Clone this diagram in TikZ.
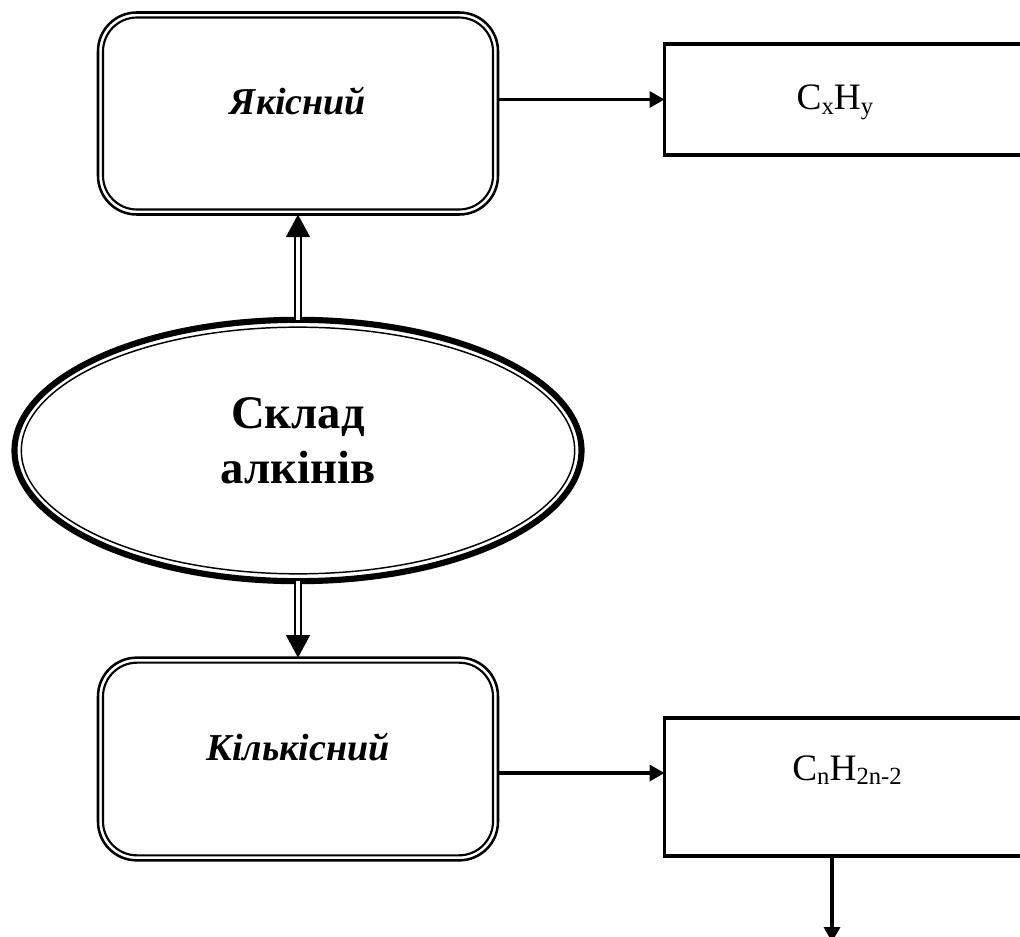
\documentclass[tikz,border=0pt]{standalone}
\usepackage{fontspec}
\setmainfont{Liberation Serif}
\usetikzlibrary{arrows.meta,shapes.geometric,calc}
% lowered, smaller index for chemical formulas
\newcommand\lowidx[1]{\raisebox{-3.7pt}{\fontsize{18.5pt}{20pt}\selectfont #1}}

\begin{document}
\begin{tikzpicture}[x=0.75pt,y=-0.75pt,
  rbox/.style={draw, line width=1.9pt, rounded corners=29pt, minimum width=300pt,
               inner sep=0pt, outer sep=0pt},
  rinner/.style={line width=1.6pt, rounded corners=25.5pt},
  fbox/.style={draw, line width=2.8pt, minimum width=296.6pt, inner sep=0pt, outer sep=0pt},
  ellbox/.style={ellipse, draw, line width=4.6pt, minimum width=425.25pt,
                 minimum height=196pt, inner sep=0pt, outer sep=0pt},
  lab/.style={anchor=base, font=\fontsize{28.5pt}{32pt}\selectfont\bfseries\itshape},
  frm/.style={anchor=base, font=\fontsize{28pt}{32pt}\selectfont},
  big/.style={anchor=base, font=\fontsize{35pt}{40pt}\selectfont\bfseries},
  arr/.style={line width=2.5pt, -{Triangle[length=11.25pt,width=12pt]}},
  dshaft/.style={double, line width=1.6pt, double distance=2.8pt, shorten >=15pt},
  dhead/.style={white, line width=1pt,
                -{Triangle[length=17pt,width=18pt,color=black,fill=black]}},
]
\useasboundingbox (0,0) rectangle (1020,937);

% rounded double-framed boxes
\node[rbox, minimum height=151.5pt] (q) at (298,113.5) {};
\draw[rinner] ($(q.north west)+(5,5)$) rectangle ($(q.south east)+(-5,-5)$);
\node[rbox, minimum height=152pt] (k) at (298,759) {};
\draw[rinner] ($(k.north west)+(5,5)$) rectangle ($(k.south east)+(-5,-5)$);

% formula boxes on the right
\node[fbox, minimum height=83pt] (r1) at (862.25,99.5) {};
\node[fbox, minimum height=103pt] (r2) at (862.25,787) {};

% central ellipse with double outline
\node[ellbox] (e) at (298,450.5) {};
\draw[line width=1.1pt] (e.center) ellipse [x radius=207.5pt, y radius=92.5pt];

% texts
\node[big] (el1) at (298,428) {Склад};
\node[big] (el2) at (298,483) {алкінів};
\node[lab] (tq) at (298,115) {Якісний};
\node[lab] (tk) at (298,760) {Кількісний};
\node[frm] (f1) at (835,110) {C\lowidx{x}H\lowidx{y}};
\node[frm] (f2) at (847,780) {C\lowidx{n}H\lowidx{2n-2}};

% double arrows from the ellipse
\draw[dshaft] (e.north) -- (q.south);
\draw[dhead] (e.north) -- (q.south);
\draw[dshaft] (e.south) -- (k.north);
\draw[dhead] (e.south) -- (k.north);

% single arrows
\draw[arr] (q.east |- r1.west) -- (r1.west);
\coordinate (a2) at ($(k.east)+(0,14)$);
\draw[arr] (a2) -- (a2 -| r2.west);
\coordinate (dn) at (832,942);
\draw[arr] (dn |- r2.south) -- (dn);
\end{tikzpicture}
\end{document}
